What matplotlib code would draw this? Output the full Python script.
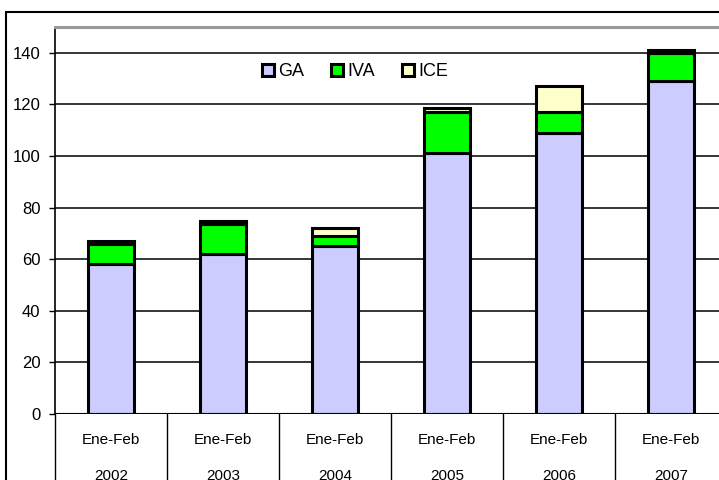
import numpy as np
import matplotlib.pyplot as plt
from matplotlib.patches import Rectangle

plt.rcParams['font.family'] = ['Liberation Sans', 'DejaVu Sans']

periods = ['Ene-Feb', 'Ene-Feb', 'Ene-Feb', 'Ene-Feb', 'Ene-Feb', 'Ene-Feb']
years = ['2002', '2003', '2004', '2005', '2006', '2007']
ga = [58, 62, 65, 101, 109, 129]
iva = [8, 11.5, 4, 16, 8, 11]
ice = [1, 1.5, 3, 1.5, 10, 1]

W, H = 719, 480
fig = plt.figure(figsize=(W / 100, H / 100), dpi=100)

# axes placed in pixel units, right edge runs past the figure like the original
left, right, top, bottom = 55, 727, 27, 414
ax = fig.add_axes([left / W, 1 - bottom / H, (right - left) / W, (bottom - top) / H])

x = np.arange(len(years))
width = 0.41
kw = dict(width=width, edgecolor='black', linewidth=2.2, zorder=3)
ax.bar(x, ga, color='#CCCCFF', label='GA', **kw)
ax.bar(x, iva, bottom=ga, color='#00FF00', label='IVA', **kw)
ax.bar(x, ice, bottom=np.add(ga, iva), color='#FFFFCC', label='ICE', **kw)

ax.set_xlim(-0.5, len(years) - 0.5)
ax.set_ylim(0, 150)
ax.set_yticks(np.arange(0, 141, 20))
ax.yaxis.grid(True, color='black', linewidth=1.1, zorder=0)
ax.set_axisbelow(True)
ax.tick_params(axis='y', direction='out', length=4.5, width=1, labelsize=12, pad=6)
ax.set_xticks([])

for s in ['right', 'bottom']:
    ax.spines[s].set_visible(False)
ax.spines['left'].set_linewidth(1.2)
ax.spines['top'].set_color('#999999')
ax.spines['top'].set_linewidth(2.2)
ax.axhline(0, color='black', linewidth=1.5, zorder=4)

# category separators below the axis
for b in np.arange(len(years) + 1) - 0.5:
    ax.plot([b, b], [0, -0.3], transform=ax.get_xaxis_transform(),
            color='black', linewidth=1, clip_on=False)

for i in x:
    ax.text(i, -26 / (bottom - top), periods[i], transform=ax.get_xaxis_transform(),
            ha='center', va='center', fontsize=11)
    ax.text(i, -62 / (bottom - top), years[i], transform=ax.get_xaxis_transform(),
            ha='center', va='center', fontsize=11)

# outer chart frame
fig.patches.append(Rectangle((6 / W, -0.1), 1.2, 1.1 - 12 / H, transform=fig.transFigure,
                             fill=False, edgecolor='black', linewidth=1.5))

ax.legend(loc='center', bbox_to_anchor=(355 / W, 1 - 72 / H), bbox_transform=fig.transFigure,
          ncol=3, frameon=False, fontsize=13, handlelength=0.65, handleheight=0.65,
          handletextpad=0.25, columnspacing=1.5)

fig.savefig('out.png', dpi=100)
